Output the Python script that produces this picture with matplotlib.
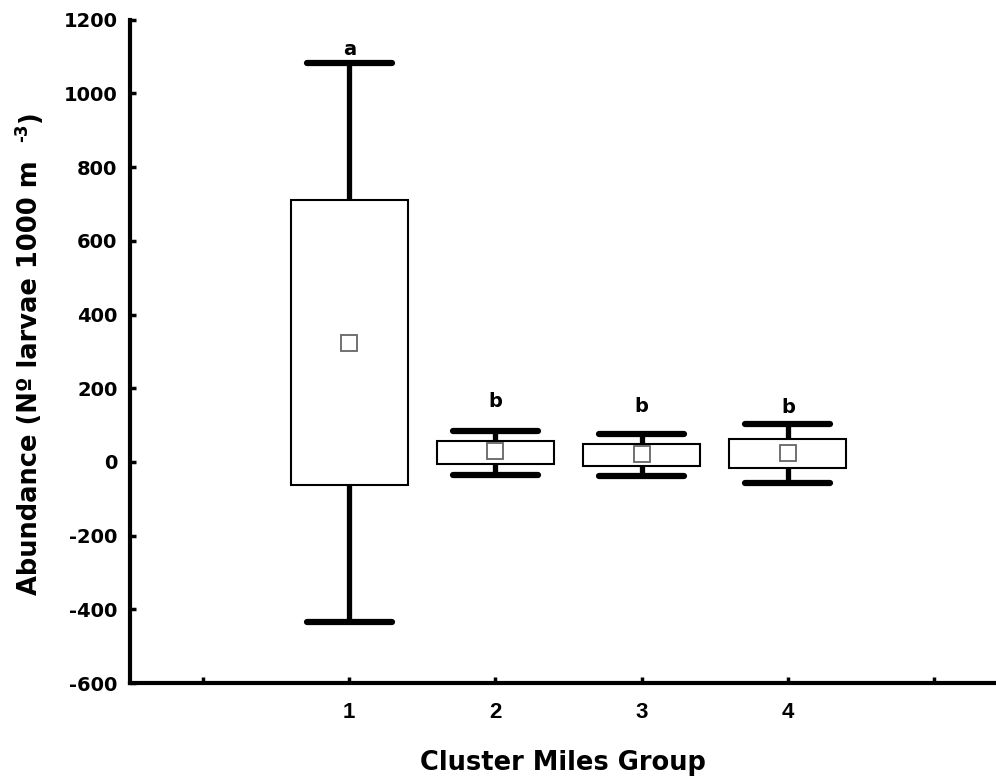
import matplotlib
matplotlib.use("Agg")
import matplotlib.pyplot as plt

groups = [1, 2, 3, 4]
means = [323, 30, 22, 24]
box_low = [-62, -5, -11, -16]
box_high = [711, 57, 49, 62]
whisk_low = [-434, -35, -38, -57]
whisk_high = [1083, 84, 76, 103]
letters = ["a", "b", "b", "b"]
letter_y = [1105, 149, 136, 133]

plt.rcParams["font.family"] = ["DejaVu Sans"]
plt.rcParams["font.weight"] = "bold"

fig = plt.figure(figsize=(9.96, 7.83), dpi=100)
ax = fig.add_axes([0.1305, 0.1277, 0.869, 0.847])

box_w = 0.8
cap_w = 0.58
for x, m, bl, bh, wl, wh, let, ly in zip(groups, means, box_low, box_high,
                                         whisk_low, whisk_high, letters, letter_y):
    # whiskers + caps
    ax.plot([x, x], [bh, wh], color="black", lw=3.8, solid_capstyle="butt", zorder=2)
    ax.plot([x, x], [wl, bl], color="black", lw=3.8, solid_capstyle="butt", zorder=2)
    ax.plot([x - cap_w / 2, x + cap_w / 2], [wh, wh], color="black", lw=4.5,
            solid_capstyle="round", zorder=2)
    ax.plot([x - cap_w / 2, x + cap_w / 2], [wl, wl], color="black", lw=4.5,
            solid_capstyle="round", zorder=2)
    # box
    ax.add_patch(plt.Rectangle((x - box_w / 2, bl), box_w, bh - bl,
                               facecolor="white", edgecolor="black", lw=1.5, zorder=3))
    ax.plot(x, m, marker="s", ms=11, mfc="white", mec="#666666", mew=1.3, zorder=4)
    ax.text(x, ly, let, ha="center", va="baseline", fontsize=14,
            fontweight="bold", zorder=5)

ax.set_xlim(-0.5, 5.42)
ax.set_ylim(-600, 1200)
ax.set_yticks(range(-600, 1201, 200))
ax.set_yticklabels([str(v) for v in range(-600, 1201, 200)], fontsize=14,
                   fontweight="bold")
ax.set_xticks([0, 1, 2, 3, 4, 5])
ax.set_xticklabels(["", "1", "2", "3", "4", ""], fontsize=16, fontweight="bold",
                   family="Liberation Sans")

for s in ["top", "right"]:
    ax.spines[s].set_visible(False)
for s in ["left", "bottom"]:
    ax.spines[s].set_linewidth(3)
ax.tick_params(axis="both", direction="in", length=4, width=2.5)
ax.tick_params(axis="x", pad=14)
ax.tick_params(axis="y", pad=9)

# x label
fig.text(563 / 996, 13 / 783, "Cluster Miles Group", ha="center", va="baseline",
         fontsize=18.5, fontweight="bold")

# y label with superscript
ylab = fig.text(37 / 996, 188 / 783, "Abundance (Nº larvae 1000 m  ",
                rotation=90, rotation_mode="anchor", ha="left", va="baseline",
                fontsize=18.5, fontweight="bold")
fig.canvas.draw()
bb = ylab.get_window_extent().transformed(fig.transFigure.inverted())
sup = fig.text(27 / 996, bb.y1, "-3", rotation=90, rotation_mode="anchor",
               ha="left", va="baseline", fontsize=12, fontweight="bold")
fig.canvas.draw()
bb2 = sup.get_window_extent().transformed(fig.transFigure.inverted())
fig.text(37 / 996, bb2.y1 + 2 / 783, ")", rotation=90, rotation_mode="anchor",
         ha="left", va="baseline", fontsize=18.5, fontweight="bold")

fig.savefig("out.png", dpi=100)
